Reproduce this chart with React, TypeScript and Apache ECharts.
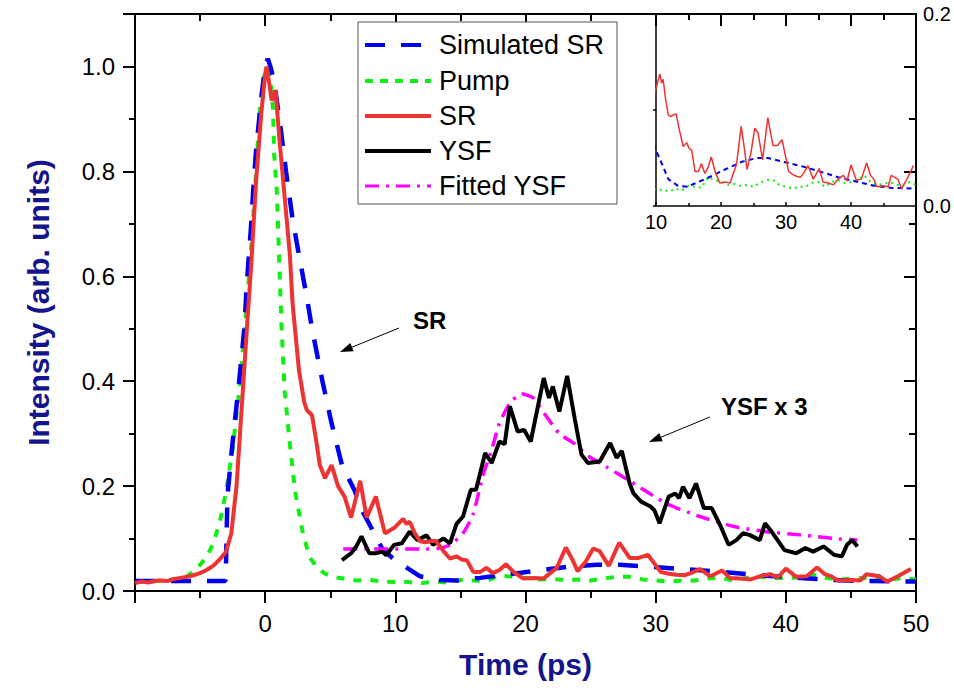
import React, { useEffect, useRef } from "react";
import * as echarts from "echarts";

// ---------- data (time in ps, intensity in arb. units) ----------
const simulatedSR: [number, number][] = [
  [-10, 0.019], [-6, 0.019], [-3.05, 0.019], [-3.0, 0.06], [-2.9, 0.18], [-2.6, 0.26], [-2.3, 0.33],
  [-2.0, 0.4], [-1.6, 0.5], [-1.4, 0.59], [-1.1, 0.69], [-0.9, 0.77], [-0.7, 0.84], [-0.3, 0.94],
  [0, 1.0], [0.2, 1.015], [0.4, 1.0], [0.7, 0.97], [1.2, 0.88], [1.6, 0.8], [2.1, 0.71], [2.6, 0.64],
  [3.2, 0.56], [3.6, 0.5], [4.4, 0.4], [5.1, 0.32], [5.9, 0.24], [6.9, 0.19], [7.3, 0.16], [8.6, 0.1],
  [9.0, 0.08], [10.0, 0.058], [10.9, 0.044], [11.9, 0.028], [13.4, 0.021], [14.8, 0.02], [16.5, 0.025],
  [18.5, 0.031], [20.6, 0.038], [23.2, 0.046], [25.5, 0.05], [27.2, 0.05], [29.6, 0.046], [32.1, 0.042],
  [34.7, 0.037], [38, 0.03], [41.1, 0.025], [43.6, 0.021], [46, 0.019], [50, 0.018],
];

const pump: [number, number][] = [
  [-10, 0.018], [-8, 0.02], [-7, 0.022], [-6, 0.028], [-5.2, 0.044], [-4.5, 0.065], [-4, 0.09],
  [-3.5, 0.13], [-3, 0.19], [-2.5, 0.27], [-2, 0.38], [-1.5, 0.52], [-1, 0.68], [-0.7, 0.8],
  [-0.4, 0.92], [-0.1, 0.98], [0.2, 1.0], [0.45, 0.96], [0.6, 0.92], [0.7, 0.83], [0.9, 0.76],
  [1.05, 0.65], [1.25, 0.51], [1.5, 0.38], [1.9, 0.28], [2.3, 0.19], [2.9, 0.11], [3.4, 0.065],
  [4.0, 0.044], [4.6, 0.033], [5.2, 0.027], [6, 0.024], [7, 0.02], [8, 0.021], [9, 0.018], [10, 0.017],
  [11, 0.017], [12, 0.015], [13, 0.018], [14, 0.016], [15, 0.021], [16, 0.02], [17, 0.019], [18, 0.03],
  [19, 0.027], [20, 0.025], [21, 0.022], [22, 0.023], [23, 0.021], [24, 0.022], [25, 0.02], [26, 0.024],
  [27, 0.027], [28, 0.027], [29, 0.022], [30, 0.02], [31, 0.018], [32, 0.02], [33, 0.02], [34, 0.024],
  [35, 0.025], [36, 0.02], [37, 0.025], [38, 0.027], [39, 0.024], [40, 0.025], [41, 0.026], [42, 0.032],
  [43, 0.025], [44, 0.022], [45, 0.023], [46, 0.025], [47, 0.022], [48, 0.022], [49, 0.025], [50, 0.022],
];

const sr: [number, number][] = [
  [-10, 0.015], [-9.5, 0.018], [-9, 0.016], [-8.5, 0.019], [-8, 0.02], [-7.5, 0.019], [-7, 0.023],
  [-6.5, 0.025], [-6, 0.027], [-5.5, 0.03], [-5, 0.034], [-4.5, 0.04], [-4, 0.048], [-3.5, 0.06],
  [-3, 0.075], [-2.6, 0.11], [-2.2, 0.2], [-1.8, 0.35], [-1.35, 0.52], [-1.05, 0.63], [-0.7, 0.78],
  [-0.3, 0.91], [0, 0.985], [0.1, 1.0], [0.3, 0.97], [0.5, 0.935], [0.8, 0.955], [1.1, 0.86],
  [1.5, 0.75], [1.9, 0.64], [2.1, 0.55], [2.6, 0.42], [3.0, 0.36], [3.2, 0.345], [3.6, 0.335],
  [3.9, 0.29], [4.2, 0.24], [4.6, 0.215], [5.1, 0.24], [5.6, 0.2], [6.1, 0.18], [6.6, 0.14], [7.3, 0.21],
  [7.8, 0.14], [8.5, 0.18], [9.2, 0.11], [9.9, 0.12], [10.3, 0.13], [10.6, 0.1375], [10.85, 0.128],
  [11.1, 0.132], [11.5, 0.11], [11.9, 0.095], [12.3, 0.093], [12.7, 0.095], [13.1, 0.096], [13.7, 0.076],
  [14.2, 0.062], [14.7, 0.066], [15.1, 0.06], [15.5, 0.058], [16.0, 0.036], [16.5, 0.036], [17.0, 0.044],
  [17.5, 0.034], [18.0, 0.04], [18.5, 0.051], [19.1, 0.036], [19.8, 0.024], [20.6, 0.025], [21.4, 0.024],
  [22.4, 0.044], [23.1, 0.083], [23.6, 0.06], [24.0, 0.038], [24.6, 0.055], [25.2, 0.081], [25.7, 0.076],
  [26.4, 0.048], [27.2, 0.092], [28.0, 0.063], [28.7, 0.063], [29.4, 0.069], [30.4, 0.036], [31.0, 0.033],
  [31.6, 0.031], [32.2, 0.03], [32.7, 0.034], [33.4, 0.042], [34.2, 0.028], [35.1, 0.039], [35.7, 0.025],
  [36.5, 0.024], [37.3, 0.022], [38.0, 0.028], [38.8, 0.032], [39.4, 0.026], [40.0, 0.043], [40.8, 0.027],
  [41.6, 0.028], [42.4, 0.045], [43.0, 0.032], [43.5, 0.028], [44.0, 0.02], [45.0, 0.021], [45.7, 0.02],
  [46.2, 0.032], [47.2, 0.028], [47.8, 0.018], [48.6, 0.028], [49.6, 0.042],
];

const ysf: [number, number][] = [
  [5.9, 0.059], [6.6, 0.072], [7.0, 0.085], [7.4, 0.104], [8.0, 0.072], [8.5, 0.072], [9.0, 0.075],
  [9.3, 0.068], [9.9, 0.088], [10.5, 0.091], [11.1, 0.113], [11.7, 0.097], [12.4, 0.106], [12.9, 0.088],
  [13.7, 0.1], [14.2, 0.091], [14.7, 0.128], [15.2, 0.142], [15.8, 0.193], [16.2, 0.193], [16.9, 0.263],
  [17.4, 0.244], [18.0, 0.285], [18.4, 0.28], [18.8, 0.352], [19.4, 0.304], [19.9, 0.307], [20.4, 0.285],
  [21.4, 0.406], [21.8, 0.368], [22.1, 0.39], [22.6, 0.342], [23.2, 0.41], [23.8, 0.326], [24.3, 0.26],
  [24.8, 0.244], [25.7, 0.247], [26.5, 0.282], [27.0, 0.254], [27.4, 0.267], [28.0, 0.205], [28.3, 0.186],
  [28.9, 0.17], [29.6, 0.161], [29.9, 0.154], [30.3, 0.129], [31.0, 0.18], [31.5, 0.186], [31.8, 0.177],
  [32.1, 0.199], [32.6, 0.177], [33.1, 0.205], [33.7, 0.158], [34.3, 0.158], [35.0, 0.123], [35.6, 0.088],
  [36.2, 0.097], [36.7, 0.11], [37.2, 0.107], [38.0, 0.097], [38.4, 0.129], [39.0, 0.11], [39.9, 0.078],
  [40.8, 0.072], [41.5, 0.082], [42.1, 0.075], [42.9, 0.085], [43.7, 0.069], [44.3, 0.066], [44.7, 0.088],
  [45.1, 0.097], [45.5, 0.085],
];

const fittedYSF: [number, number][] = [
  [6, 0.08], [8, 0.08], [10, 0.08], [12, 0.08], [13.2, 0.081], [14.2, 0.088], [15.2, 0.11], [16, 0.148],
  [16.7, 0.218], [17.4, 0.269], [18, 0.32], [18.8, 0.358], [19.7, 0.376], [20.6, 0.368], [21.6, 0.333],
  [22.6, 0.3], [23.7, 0.282], [24.9, 0.256], [26.2, 0.237], [28, 0.21], [30.8, 0.167], [33.4, 0.142],
  [36, 0.123], [38.5, 0.113], [41.1, 0.107], [43.7, 0.1], [45.5, 0.097],
];

const legendNames = ["Simulated SR", "Pump", "SR", "YSF", "Fitted YSF"];
const xTitle = "Time (ps)";
const yTitle = "Intensity (arb. units)";
const srLabel = "SR";
const ysfLabel = "YSF x 3";

const FONT = '"Liberation Sans", Arial, Helvetica, sans-serif';
const NAVY = "#14148c";
const BLUE = "#0000ee";
const GREEN = "#11ee11";
const RED = "#ee3333";
const MAGENTA = "#ff00ff";

export default function App() {
  const ref = useRef<HTMLDivElement>(null);

  useEffect(() => {
    document.body.style.margin = "0";
    document.body.style.overflow = "hidden";
    if (!ref.current) return;
    const chart = echarts.init(ref.current, null, { renderer: "svg" });

    const axisLineStyle = { color: "#000", width: 2 };
    const labelStyle = { color: "#000", fontSize: 24, fontFamily: FONT };

    const mainLine = (name: string, data: [number, number][], color: string, width: number, type: any, smooth: number | boolean = false) => ({
      name,
      type: "line",
      xAxisIndex: 0,
      yAxisIndex: 0,
      data,
      showSymbol: false,
      smooth,
      clip: true,
      lineStyle: { color, width, type },
    });
    const insetLine = (name: string, data: [number, number][], color: string, width: number, type: any, smooth: number | boolean = false) => ({
      name: name + " (inset)",
      type: "line",
      xAxisIndex: 2,
      yAxisIndex: 2,
      data,
      showSymbol: false,
      smooth,
      clip: true,
      lineStyle: { color, width, type },
    });

    // legend graphic
    const legendRows = [45, 81, 116, 151, 186];
    const legendStyles = [
      { stroke: BLUE, lineWidth: 4, lineDash: [20, 16] },
      { stroke: GREEN, lineWidth: 4, lineDash: [8, 7] },
      { stroke: RED, lineWidth: 4, lineDash: null },
      { stroke: "#000", lineWidth: 4, lineDash: null },
      { stroke: MAGENTA, lineWidth: 3, lineDash: [14, 7, 3, 7] },
    ];
    const legendGraphics: any[] = [
      {
        type: "rect",
        shape: { x: 358, y: 22, width: 259, height: 182 },
        style: { fill: "#fff", stroke: "#555", lineWidth: 1 },
        z: 10,
      },
    ];
    legendNames.forEach((n, i) => {
      legendGraphics.push({
        type: "line",
        shape: { x1: 365, y1: legendRows[i], x2: 431, y2: legendRows[i] },
        style: legendStyles[i],
        z: 11,
      });
      legendGraphics.push({
        type: "text",
        x: 439,
        y: legendRows[i],
        style: { text: n, fill: "#000", fontSize: 27, fontFamily: FONT, verticalAlign: "middle", align: "left" },
        z: 11,
      });
    });

    const annotations: any[] = [
      { type: "text", x: 413, y: 320, style: { text: srLabel, fill: "#000", fontSize: 24, fontWeight: "bold", fontFamily: FONT, verticalAlign: "middle" }, z: 11 },
      { type: "line", shape: { x1: 399, y1: 328, x2: 350, y2: 348 }, style: { stroke: "#000", lineWidth: 1 }, z: 11 },
      { type: "polygon", shape: { points: [[340, 352], [353.7, 351.3], [350.3, 342.9]] }, style: { fill: "#000" }, z: 11 },
      { type: "text", x: 721, y: 406, style: { text: ysfLabel, fill: "#000", fontSize: 24, fontWeight: "bold", fontFamily: FONT, verticalAlign: "middle" }, z: 11 },
      { type: "line", shape: { x1: 710, y1: 417, x2: 659, y2: 438 }, style: { stroke: "#000", lineWidth: 1 }, z: 11 },
      { type: "polygon", shape: { points: [[649, 442], [662.7, 441.2], [659.3, 432.9]] }, style: { fill: "#000" }, z: 11 },
    ];

    const option: any = {
      animation: false,
      backgroundColor: "#fff",
      grid: [
        { left: 135, top: 14, right: 38, bottom: 100, show: false },
        { left: 656, top: 14, right: 38, bottom: 485, show: false },
      ],
      xAxis: [
        {
          gridIndex: 0, type: "value", position: "bottom", min: -10, max: 50, interval: 10,
          axisLine: { show: true, onZero: false, lineStyle: axisLineStyle },
          axisTick: { show: true, inside: false, length: 12, lineStyle: axisLineStyle },
          minorTick: { show: true, splitNumber: 2, length: 7, lineStyle: axisLineStyle },
          splitLine: { show: false },
          axisLabel: { ...labelStyle, margin: 20, formatter: (v: number) => (v < 0 ? "" : String(v)) },
          name: xTitle, nameLocation: "middle", nameGap: 58,
          nameTextStyle: { color: NAVY, fontSize: 30, fontWeight: "bold", fontFamily: FONT },
        },
        {
          gridIndex: 0, type: "value", position: "top", min: -10, max: 50, interval: 10,
          axisLine: { show: true, onZero: false, lineStyle: axisLineStyle },
          axisTick: { show: true, inside: true, length: 12, lineStyle: axisLineStyle },
          minorTick: { show: true, splitNumber: 2, length: 7, lineStyle: axisLineStyle },
          splitLine: { show: false },
          axisLabel: { show: false },
        },
        {
          gridIndex: 1, type: "value", position: "bottom", min: 10, max: 50, interval: 10,
          axisLine: { show: true, onZero: false, lineStyle: { color: "#000", width: 1.5 } },
          axisTick: { show: true, inside: true, length: 4, lineStyle: { color: "#000", width: 1.5 } },
          minorTick: { show: true, splitNumber: 2, length: 3, lineStyle: { color: "#000", width: 1.5 } },
          splitLine: { show: false },
          axisLabel: { color: "#000", fontSize: 20, fontFamily: FONT, margin: 6, formatter: (v: number) => (v >= 50 ? "" : String(v)) },
        },
        {
          gridIndex: 1, type: "value", position: "top", min: 10, max: 50, interval: 10,
          axisLine: { show: true, onZero: false, lineStyle: axisLineStyle },
          axisTick: { show: true, inside: true, length: 12, lineStyle: axisLineStyle },
          minorTick: { show: true, splitNumber: 2, length: 6, lineStyle: axisLineStyle },
          splitLine: { show: false },
          axisLabel: { show: false },
        },
      ],
      yAxis: [
        {
          gridIndex: 0, type: "value", position: "left", min: 0, max: 1.1, interval: 0.2,
          axisLine: { show: true, onZero: false, lineStyle: axisLineStyle },
          axisTick: { show: true, inside: false, length: 12, lineStyle: axisLineStyle },
          minorTick: { show: true, splitNumber: 2, length: 6, lineStyle: axisLineStyle },
          splitLine: { show: false },
          axisLabel: { ...labelStyle, margin: 20, formatter: (v: number) => (v > 1.05 ? "" : v.toFixed(1)) },
          name: yTitle, nameLocation: "middle", nameGap: 82,
          nameTextStyle: { color: NAVY, fontSize: 30, fontWeight: "bold", fontFamily: FONT },
        },
        {
          gridIndex: 0, type: "value", position: "right", min: 0, max: 1.1, interval: 0.2,
          axisLine: { show: true, onZero: false, lineStyle: axisLineStyle },
          axisTick: { show: true, inside: true, length: 12, lineStyle: axisLineStyle },
          minorTick: { show: true, splitNumber: 2, length: 7, lineStyle: axisLineStyle },
          splitLine: { show: false },
          axisLabel: { show: false },
        },
        {
          gridIndex: 1, type: "value", position: "left", min: 0, max: 0.2, interval: 0.1,
          axisLine: { show: true, onZero: false, lineStyle: { color: "#000", width: 1.5 } },
          axisTick: { show: true, inside: false, length: 3, lineStyle: { color: "#000", width: 1.5 } },
          splitLine: { show: false },
          axisLabel: { show: false },
        },
        {
          gridIndex: 1, type: "value", position: "right", min: 0, max: 0.2, interval: 0.2,
          axisLine: { show: false },
          axisTick: { show: false },
          splitLine: { show: false },
          axisLabel: { color: "#000", fontSize: 20, fontFamily: FONT, margin: 7, formatter: (v: number) => v.toFixed(1) },
        },
      ],
      series: [
        mainLine(legendNames[1], pump, GREEN, 4, [8, 9]),
        mainLine(legendNames[0], simulatedSR, BLUE, 4.5, [20, 16]),
        mainLine(legendNames[4], fittedYSF, MAGENTA, 3.5, [14, 7, 3, 7], 0.2),
        mainLine(legendNames[3], ysf, "#000", 4, "solid"),
        mainLine(legendNames[2], sr, RED, 4, "solid"),
        insetLine(legendNames[1], pump, GREEN, 2, [2, 4]),
        insetLine(legendNames[0], simulatedSR, BLUE, 2, [5, 4]),
        insetLine(legendNames[2], sr, RED, 1.5, "solid"),
      ],
      graphic: [...legendGraphics, ...annotations],
    };

    chart.setOption(option);
    return () => chart.dispose();
  }, []);

  return <div ref={ref} style={{ width: 954, height: 691 }} />;
}
